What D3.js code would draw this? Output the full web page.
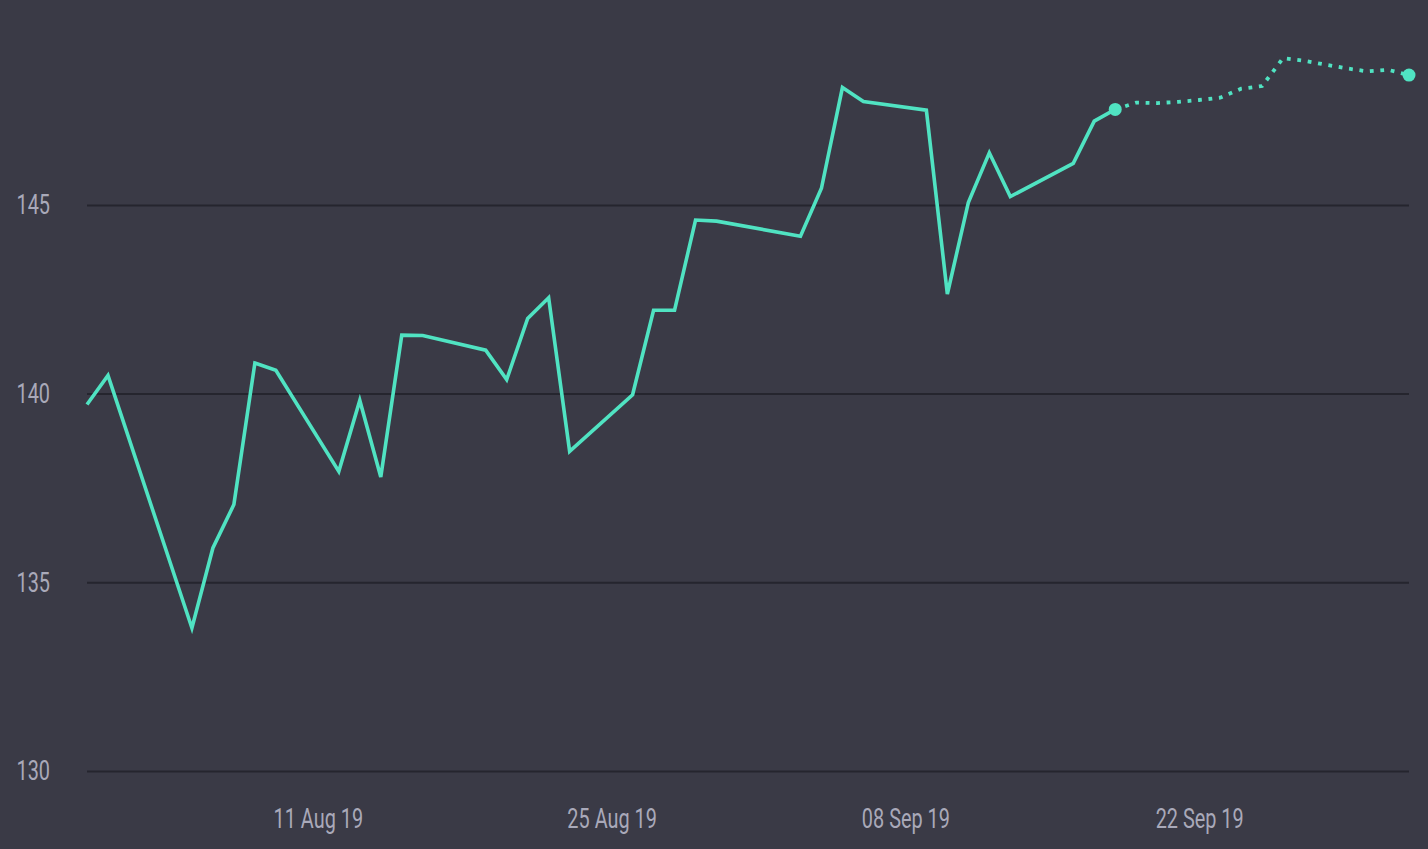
<!DOCTYPE html>
<html>
<head>
<meta charset="utf-8">
<script src="https://cdn.jsdelivr.net/npm/d3@7"></script>
<style>
  html, body { margin: 0; padding: 0; background: #3a3a46; }
  svg { display: block; }
  .tick text { font-family: "Roboto", "Noto Sans", sans-serif; font-weight: 400; }
</style>
</head>
<body>
<div id="chart"></div>
<script>
// closing prices, trading days only
const actualDates = ["2019-07-31","2019-08-01","2019-08-05","2019-08-06","2019-08-07","2019-08-08","2019-08-09",
  "2019-08-12","2019-08-13","2019-08-14","2019-08-15","2019-08-16","2019-08-19","2019-08-20","2019-08-21",
  "2019-08-22","2019-08-23","2019-08-26","2019-08-27","2019-08-28","2019-08-29","2019-08-30","2019-09-03",
  "2019-09-04","2019-09-05","2019-09-06","2019-09-09","2019-09-10","2019-09-11","2019-09-12","2019-09-13",
  "2019-09-16","2019-09-17","2019-09-18"];
const actualValues = [139.71,140.48,133.79,135.91,137.06,140.81,140.62,
  137.94,139.82,137.79,141.55,141.54,141.15,140.37,141.99,
  142.54,138.47,139.97,142.21,142.21,144.60,144.57,144.17,
  145.44,148.11,147.74,147.51,142.64,145.06,146.38,145.22,
  146.10,147.22,147.53];

// forecast, starts at last actual point
const forecastDates = ["2019-09-18","2019-09-19","2019-09-20","2019-09-21","2019-09-22","2019-09-23","2019-09-24",
  "2019-09-25","2019-09-26","2019-09-27","2019-09-28","2019-09-29","2019-09-30","2019-10-01","2019-10-02"];
const forecastValues = [147.53,147.71,147.70,147.73,147.78,147.84,148.08,
  148.15,148.89,148.82,148.72,148.62,148.54,148.58,148.44];

const yTicks = [130, 135, 140, 145];
const xTicks = ["2019-08-11","2019-08-25","2019-09-08","2019-09-22"];

const width = 1428, height = 849;
const margin = {top: 0, right: 19, bottom: 78, left: 87};
const lineColor = "#50e3c2";
const textColor = "#a9a9b9";
const gridColor = "#25252e";
const squeeze = 0.71; // no condensed face installed, narrow the glyphs by hand

const parse = d3.timeParse("%Y-%m-%d");
const actual = actualDates.map((d, i) => ({date: parse(d), value: actualValues[i]}));
const forecast = forecastDates.map((d, i) => ({date: parse(d), value: forecastValues[i]}));

const svg = d3.select("#chart").append("svg")
  .attr("width", width)
  .attr("height", height);

svg.append("rect")
  .attr("width", width)
  .attr("height", height)
  .attr("fill", "#3a3a46");

const x = d3.scaleTime()
  .domain([parse("2019-07-31"), parse("2019-10-02")])
  .range([margin.left, width - margin.right]);

const y = d3.scaleLinear()
  .domain([130, 150.43])
  .range([height - margin.bottom, margin.top]);

// y axis + gridlines
const yPad = 37;
const yAxis = svg.append("g")
  .attr("transform", `translate(${margin.left},0)`)
  .call(d3.axisLeft(y)
    .tickValues(yTicks)
    .tickSize(-(width - margin.left - margin.right))
    .tickPadding(yPad));
yAxis.select(".domain").remove();
yAxis.selectAll(".tick line")
  .attr("stroke", gridColor)
  .attr("stroke-width", 2);
yAxis.selectAll(".tick text")
  .attr("fill", textColor)
  .attr("x", -yPad / squeeze)
  .attr("transform", `scale(${squeeze},1)`)
  .style("font-size", "28px");

// x axis
const xAxis = svg.append("g")
  .attr("transform", `translate(0,${height - margin.bottom})`)
  .call(d3.axisBottom(x)
    .tickValues(xTicks.map(parse))
    .tickFormat(d3.timeFormat("%d %b %y"))
    .tickSize(0)
    .tickPadding(37));
xAxis.select(".domain").remove();
xAxis.selectAll(".tick text")
  .attr("fill", textColor)
  .attr("transform", `scale(${squeeze},1)`)
  .style("font-size", "28px");

const line = d3.line()
  .x(d => x(d.date))
  .y(d => y(d.value));

svg.append("path")
  .datum(actual)
  .attr("fill", "none")
  .attr("stroke", lineColor)
  .attr("stroke-width", 3.6)
  .attr("stroke-linejoin", "miter")
  .attr("d", line);

svg.append("path")
  .datum(forecast)
  .attr("fill", "none")
  .attr("stroke", lineColor)
  .attr("stroke-width", 3.8)
  .attr("stroke-dasharray", "3.8 6.7")
  .attr("d", line);

// end markers
svg.selectAll(".marker")
  .data([actual[actual.length - 1], forecast[forecast.length - 1]])
  .join("circle")
  .attr("class", "marker")
  .attr("cx", d => x(d.date))
  .attr("cy", d => y(d.value))
  .attr("r", 6.5)
  .attr("fill", lineColor);
</script>
</body>
</html>
